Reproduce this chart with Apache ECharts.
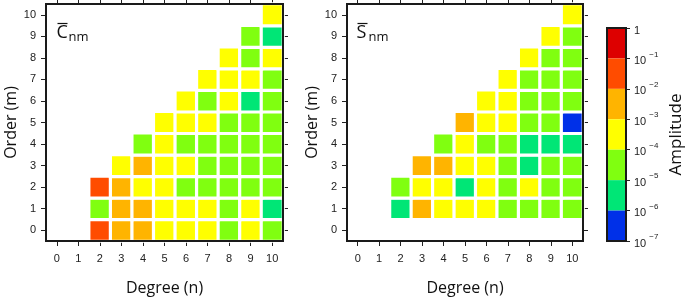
<!DOCTYPE html>
<html>
<head>
<meta charset="utf-8">
<script src="https://cdn.jsdelivr.net/npm/echarts@6/dist/echarts.min.js"></script>
<style>
  html, body { margin: 0; padding: 0; background: #fff; }
  #chart { width: 685px; height: 298px; }
</style>
</head>
<body>
<div id="chart"></div>
<script>
// degree n (x) and order m (y) tick labels
const degrees = ['0', '1', '2', '3', '4', '5', '6', '7', '8', '9', '10'];
const orders = ['0', '1', '2', '3', '4', '5', '6', '7', '8', '9', '10'];

// log10(amplitude), rows m = 0..10, columns n = 0..10
const cBar = [
  [null, null, -1.5, -2.5, -2.5, -3.5, -3.5, -3.5, -4.5, -3.5, -4.5],
  [null, null, -4.5, -2.5, -2.5, -3.5, -3.5, -3.5, -4.5, -3.5, -5.5],
  [null, null, -1.5, -2.5, -3.5, -3.5, -4.5, -4.5, -4.5, -4.5, -4.5],
  [null, null, null, -3.5, -2.5, -3.5, -3.5, -4.5, -4.5, -4.5, -4.5],
  [null, null, null, null, -4.5, -3.5, -4.5, -4.5, -4.5, -4.5, -4.5],
  [null, null, null, null, null, -3.5, -3.5, -3.5, -4.5, -4.5, -4.5],
  [null, null, null, null, null, null, -3.5, -4.5, -3.5, -5.5, -4.5],
  [null, null, null, null, null, null, null, -3.5, -3.5, -3.5, -4.5],
  [null, null, null, null, null, null, null, null, -3.5, -4.5, -3.5],
  [null, null, null, null, null, null, null, null, null, -4.5, -5.5],
  [null, null, null, null, null, null, null, null, null, null, -3.5]
];

const sBar = [
  [null, null, null, null, null, null, null, null, null, null, null],
  [null, null, -5.5, -2.5, -3.5, -3.5, -3.5, -4.5, -4.5, -4.5, -4.5],
  [null, null, -4.5, -3.5, -3.5, -5.5, -3.5, -4.5, -3.5, -4.5, -4.5],
  [null, null, null, -2.5, -2.5, -3.5, -3.5, -4.5, -5.5, -4.5, -4.5],
  [null, null, null, null, -4.5, -3.5, -4.5, -4.5, -5.5, -5.5, -5.5],
  [null, null, null, null, null, -2.5, -3.5, -3.5, -4.5, -4.5, -6.5],
  [null, null, null, null, null, null, -3.5, -3.5, -4.5, -4.5, -4.5],
  [null, null, null, null, null, null, null, -3.5, -4.5, -4.5, -4.5],
  [null, null, null, null, null, null, null, null, -3.5, -4.5, -4.5],
  [null, null, null, null, null, null, null, null, null, -3.5, -4.5],
  [null, null, null, null, null, null, null, null, null, null, -3.5]
];

// colour classes, from 1 (top) down to 1e-7
const levelTop = [0, -1, -2, -3, -4, -5, -6];
const levelColors = ['#dd0000', '#ff4c00', '#ffb400', '#ffff00', '#80ff10', '#00e676', '#0030e8'];

const chart = echarts.init(document.getElementById('chart'));

function cells(rows) {
  const out = [];
  rows.forEach((row, m) => row.forEach((v, n) => { if (v !== null) out.push([n, m, v]); }));
  return out;
}

const tickFont = { fontFamily: 'Liberation Sans', fontSize: 11, color: '#222' };
const titleFont = { fontFamily: 'Open Sans', fontSize: 16, color: '#111' };
// frame drawn above the cells, so the white cell borders don't eat into it
const frame = {
  show: true, borderColor: '#1a1a1a', borderWidth: 2, backgroundColor: 'transparent',
  z: 5, outerBoundsMode: 'none', containLabel: false
};

const grids = [
  Object.assign({ left: 46, top: 4, width: 237, height: 237 }, frame),
  Object.assign({ left: 347, top: 4, width: 236, height: 237 }, frame),
  Object.assign({ left: 607, top: 28, width: 19, height: 213 }, frame)
];

const xAxes = [];
const yAxes = [];
[0, 1].forEach(g => {
  const tick = { show: true, alignWithLabel: true, length: 5, lineStyle: { color: '#222' } };
  xAxes.push({
    type: 'category', gridIndex: g, data: degrees, position: 'bottom',
    axisLine: { show: false }, axisTick: tick,
    axisLabel: Object.assign({ margin: 12 }, tickFont),
    name: 'Degree (n)', nameLocation: 'middle', nameGap: 39, nameTextStyle: titleFont
  });
  xAxes.push({
    type: 'category', gridIndex: g, data: degrees, position: 'top',
    axisLine: { show: false }, axisTick: tick, axisLabel: { show: false }
  });
  yAxes.push({
    type: 'category', gridIndex: g, data: orders, position: 'left',
    axisLine: { show: false }, axisTick: tick,
    axisLabel: Object.assign({ margin: 10 }, tickFont),
    name: 'Order (m)', nameLocation: 'middle', nameGap: 25, nameTextStyle: titleFont
  });
  yAxes.push({
    type: 'category', gridIndex: g, data: orders, position: 'right',
    axisLine: { show: false }, axisTick: tick, axisLabel: { show: false }
  });
});

// colour bar axes
xAxes.push({ type: 'category', gridIndex: 2, data: [''], show: false });
yAxes.push({
  type: 'value', gridIndex: 2, position: 'right', min: -7, max: 0, interval: 1,
  splitLine: { show: false }, axisLine: { show: false },
  axisTick: { show: true, length: 4, lineStyle: { color: '#222' } },
  axisLabel: {
    margin: 8,
    formatter: v => v === 0 ? '{b|1}' : '{b|10 }{s|' + v.toString().replace('-', '\u2212') + '}',
    rich: {
      b: { fontFamily: 'Liberation Sans', fontSize: 11, color: '#222', lineHeight: 16, verticalAlign: 'bottom' },
      s: { fontFamily: 'Liberation Sans', fontSize: 8, color: '#222', lineHeight: 16, verticalAlign: 'top' }
    }
  },
  name: 'Amplitude', nameLocation: 'middle', nameGap: 42, nameRotate: 90,
  nameTextStyle: { fontFamily: 'Open Sans', fontSize: 17, color: '#111' }
});

const heat = (data, g) => ({
  type: 'heatmap', xAxisIndex: g * 2, yAxisIndex: g * 2, data: data,
  itemStyle: { borderColor: '#fff', borderWidth: 3.2 },
  emphasis: { disabled: true }
});

const barSeries = levelColors.map((c, i) => ({
  type: 'bar', xAxisIndex: 4, yAxisIndex: 4, stack: 'cb', barWidth: '100%',
  data: [-1], itemStyle: { color: c }, silent: true
}));

function overlineLabel(x, letter) {
  return {
    type: 'group', left: x, top: 21,
    children: [
      { type: 'text', x: 0, y: 2, style: { text: letter, font: '18px "Open Sans"', fill: '#111' } },
      { type: 'line', shape: { x1: 1, y1: 2, x2: 11, y2: 2 }, style: { stroke: '#111', lineWidth: 1.2 } },
      { type: 'text', x: 12, y: 9, style: { text: 'nm', font: '13px "Open Sans"', fill: '#111' } }
    ]
  };
}

chart.setOption({
  animation: false,
  grid: grids,
  xAxis: xAxes,
  yAxis: yAxes,
  visualMap: {
    type: 'piecewise', show: false, seriesIndex: [0, 1], dimension: 2,
    pieces: levelTop.map((t, i) => ({ min: t - 1, max: t, color: levelColors[i] }))
  },
  graphic: [overlineLabel(55, 'C'), overlineLabel(355, 'S')],
  series: [heat(cells(cBar), 0), heat(cells(sBar), 1)].concat(barSeries)
});
</script>
</body>
</html>
